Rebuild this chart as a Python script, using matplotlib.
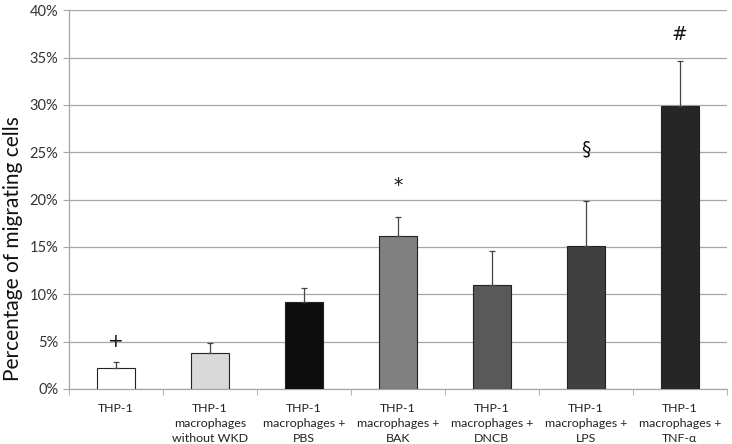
import numpy as np
import matplotlib.pyplot as plt
from matplotlib.ticker import PercentFormatter, FixedLocator

plt.rcParams['font.family'] = ['Lato', 'DejaVu Sans']

# data
labels = ['THP-1',
          'THP-1\nmacrophages\nwithout WKD',
          'THP-1\nmacrophages +\nPBS',
          'THP-1\nmacrophages +\nBAK',
          'THP-1\nmacrophages +\nDNCB',
          'THP-1\nmacrophages +\nLPS',
          'THP-1\nmacrophages +\nTNF-α']
values = [2.2, 3.75, 9.2, 16.2, 11.0, 15.1, 29.9]
errors = [0.65, 1.05, 1.5, 2.0, 3.6, 4.8, 4.7]
marks = ['+', '', '', '*', '', '§', '#']
mark_y = [5.0, None, None, 21.5, None, 25.3, 37.4]
colors = ['#ffffff', '#d9d9d9', '#0d0d0d', '#808080', '#595959', '#404040', '#262626']

fig = plt.figure(figsize=(7.32, 4.44), dpi=100)
ax = fig.add_axes([0.094, 0.124, 0.899, 0.853])

x = np.arange(len(values))
ax.bar(x, values, width=0.41, color=colors, edgecolor='#222222', linewidth=0.8, zorder=3)
ax.errorbar(x, values, yerr=[np.zeros(len(errors)), errors], fmt='none',
            ecolor='#444444', elinewidth=0.9, capsize=2.5, capthick=0.9, zorder=4)

for xi, m, my in zip(x, marks, mark_y):
    if m:
        ax.text(xi, my, m, ha='center', va='center', fontsize=13.5, color='#111111',
                family=['DejaVu Sans'])

ax.set_xlim(-0.5, len(values) - 0.5)
ax.set_ylim(0, 40)
ax.set_yticks(np.arange(0, 41, 5))
ax.yaxis.set_major_formatter(PercentFormatter(decimals=0))
ax.yaxis.grid(True, color='#a6a6a6', linewidth=0.9, zorder=0)

ax.set_xticks(x)
ax.set_xticklabels(labels, fontsize=8.9, color='#222222', linespacing=1.45)
ax.tick_params(axis='x', length=0, pad=10)
ax.xaxis.set_minor_locator(FixedLocator(np.arange(-0.5, len(values), 1)))
ax.tick_params(axis='x', which='minor', length=4, color='#a6a6a6')
ax.tick_params(axis='y', length=4, color='#a6a6a6', labelsize=10.5, labelcolor='#333333')

for s in ['top', 'right']:
    ax.spines[s].set_visible(False)
for s in ['left', 'bottom']:
    ax.spines[s].set_color('#a6a6a6')
    ax.spines[s].set_linewidth(0.9)

ax.set_ylabel('Percentage of migrating cells', fontsize=15, color='#111111')
ax.yaxis.set_label_coords(-0.07, 0.37)

fig.savefig('out.png', dpi=100)
